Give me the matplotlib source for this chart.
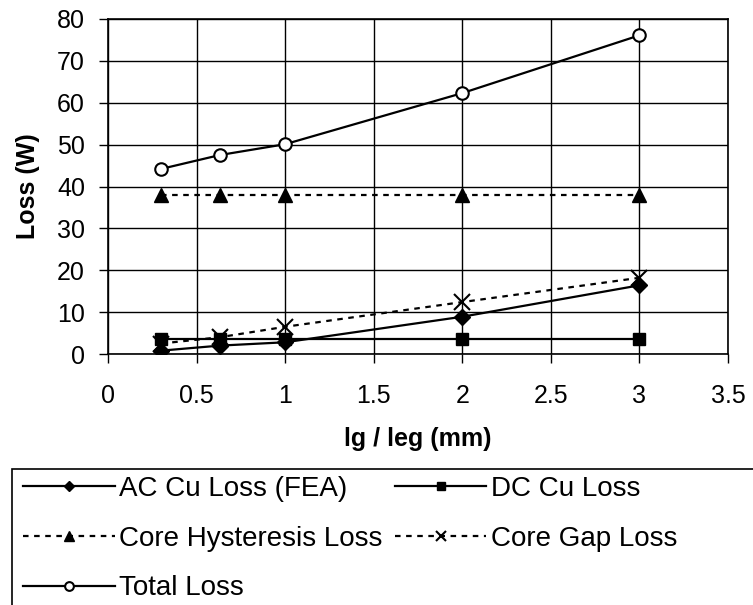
import matplotlib.pyplot as plt
from matplotlib.patches import Rectangle

plt.rcParams["font.family"] = ["Liberation Sans", "DejaVu Sans"]

# air gap length (mm)
gap = [0.3, 0.63, 1, 2, 3]
ac_cu = [0.8, 2.0, 2.8, 8.9, 16.4]     # AC Cu Loss (FEA)
dc_cu = [3.5, 3.5, 3.5, 3.5, 3.5]      # DC Cu Loss
core_hyst = [38, 38, 38, 38, 38]       # Core Hysteresis Loss
core_gap = [2.5, 4.0, 6.5, 12.4, 18.2] # Core Gap Loss
total = [44.2, 47.5, 50.1, 62.3, 76.1] # Total Loss

xticks = [0, 0.5, 1, 1.5, 2, 2.5, 3, 3.5]
yticks = [0, 10, 20, 30, 40, 50, 60, 70, 80]

fig = plt.figure(figsize=(7.53, 6.05), dpi=100)
ax = fig.add_axes([108 / 753, 1 - 354 / 605, 620 / 753, 335 / 605])

dots = (0, (2.5, 2.5))
ax.plot(gap, ac_cu, color="black", lw=1.6, marker="D", ms=8, label="AC Cu Loss (FEA)", zorder=3)
ax.plot(gap, core_hyst, color="black", lw=1.6, ls=dots, marker="^", ms=10, label="Core Hysteresis Loss", zorder=3)
ax.plot(gap, total, color="black", lw=1.6, marker="o", ms=9, mfc="white", mew=1.5, label="Total Loss", zorder=3)
ax.plot(gap, dc_cu, color="black", lw=1.6, marker="s", ms=8, label="DC Cu Loss", zorder=3)
ax.plot(gap, core_gap, color="black", lw=1.6, ls=dots, marker="x", ms=11, mew=1.5, label="Core Gap Loss", zorder=3)

ax.set_xlim(0, 3.5)
ax.set_ylim(0, 80)
ax.set_xticks(xticks, [f"{t:g}" for t in xticks])
ax.set_yticks(yticks)
ax.grid(True, color="black", lw=1.0)
ax.set_axisbelow(True)
for s in ax.spines.values():
    s.set_linewidth(1.2)
ax.tick_params(direction="out", length=6.5, width=1, labelsize=18, color="black")
ax.tick_params(axis="y", pad=10)
ax.tick_params(axis="x", pad=15)

ax.set_xlabel("lg / leg (mm)", fontsize=18, fontweight="bold", labelpad=14)
ax.set_ylabel("Loss (W)", fontsize=18, fontweight="bold", labelpad=12)

# legend below the plot, box runs off the right/bottom edges
fig.patches.append(Rectangle((12 / 753, -0.05), 1.1, 0.05 + 1 - 469 / 605,
                             transform=fig.transFigure, fill=False,
                             edgecolor="black", lw=1.2))
fig.legend(loc="upper left", bbox_to_anchor=(23 / 753, 1 - 476 / 605),
           ncol=2, fontsize=20, frameon=False, handlelength=3.3,
           handletextpad=0.15, borderaxespad=0, borderpad=0,
           labelspacing=0.85, columnspacing=0.45, markerscale=0.7)

fig.savefig("out.png", dpi=100)
